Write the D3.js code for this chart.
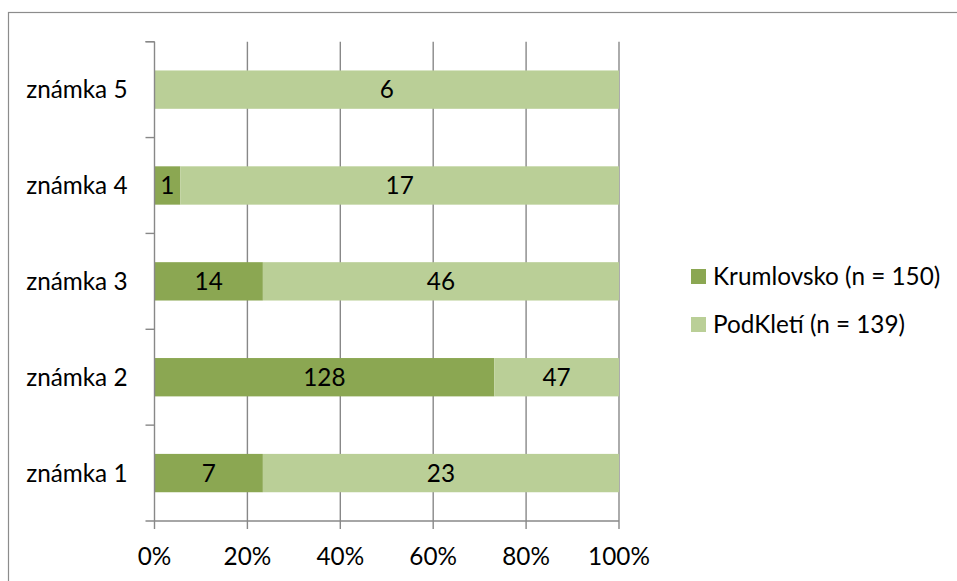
<!DOCTYPE html>
<html><head><meta charset="utf-8">
<script src="https://cdn.jsdelivr.net/npm/d3@7"></script>
<style>body{margin:0;background:#fff}svg{display:block}text{font-family:Lato,"Open Sans",sans-serif;fill:#000}</style>
</head><body><svg id="c" width="957" height="581"></svg>
<script>
const categories = ["známka 1","známka 2","známka 3","známka 4","známka 5"];
const seriesNames = ["Krumlovsko (n = 150)","PodKletí (n = 139)"];
const krumlovsko = [7,128,14,1,0];
const podkleti = [23,47,46,17,6];
const xTicks = [0,0.2,0.4,0.6,0.8,1];
const colors = ["#8BA752","#BACF97"];
const FS = 24.3;

const svg = d3.select("#c");
const W=957,H=581;
svg.append("rect").attr("x",8.5).attr("y",12.5).attr("width",W).attr("height",H).attr("fill","none").attr("stroke","#8c8c8c").attr("stroke-width",1.2);

const x0=154.5, x1=619, yTop=41.7, yBot=521;
const x = d3.scaleLinear().domain([0,1]).range([x0,x1]);
const y = d3.scaleBand().domain(categories.slice().reverse()).range([yTop,yBot]).paddingInner(0.6).paddingOuter(0.3);
const yb = d3.scaleBand().domain(categories.slice().reverse()).range([yTop,yBot]);

const grid="#888";
svg.append("g").selectAll("line").data(xTicks.slice(1)).join("line")
 .attr("x1",d=>x(d)).attr("x2",d=>x(d)).attr("y1",yTop).attr("y2",yBot+8)
 .attr("stroke",grid).attr("stroke-width",1.4);

const rows = categories.map((c,i)=>({cat:c,vals:[krumlovsko[i],podkleti[i]]}));
const g = svg.append("g");
rows.forEach(r=>{
  const tot = d3.sum(r.vals); let acc=0;
  r.vals.forEach((v,j)=>{
    const a=acc/tot, b=(acc+v)/tot; acc+=v;
    g.append("rect").attr("x",x(a)).attr("y",y(r.cat)).attr("width",x(b)-x(a)).attr("height",y.bandwidth()).attr("fill",colors[j]);
    if(v>0) g.append("text").attr("x",(x(a)+x(b))/2).attr("y",y(r.cat)+y.bandwidth()/2).attr("dy","0.36em")
      .attr("text-anchor","middle").attr("font-size",FS).text(v);
  });
});

svg.append("line").attr("x1",x0).attr("x2",x0).attr("y1",yTop).attr("y2",yBot+8).attr("stroke",grid).attr("stroke-width",1.4);
const bounds = categories.map(c=>yb(c)).concat([yTop]);
svg.append("g").selectAll("line").data(bounds).join("line")
 .attr("x1",x0-9).attr("x2",x0).attr("y1",d=>d).attr("y2",d=>d).attr("stroke",grid).attr("stroke-width",1.4);
svg.append("line").attr("x1",x0-9).attr("x2",x1).attr("y1",yBot).attr("y2",yBot).attr("stroke",grid).attr("stroke-width",1.4);

svg.append("g").selectAll("text").data(categories).join("text")
 .attr("x",127.5).attr("y",d=>yb(d)+yb.bandwidth()/2).attr("dy","0.36em").attr("text-anchor","end").attr("font-size",FS).text(d=>d);
svg.append("g").selectAll("text").data(xTicks).join("text")
 .attr("x",d=>x(d)).attr("y",556).attr("dy","0.36em").attr("text-anchor","middle").attr("font-size",FS).text(d=>d3.format(".0%")(d));

const lg = svg.append("g");
seriesNames.forEach((s,i)=>{
  const cy = 276.5 + i*48;
  lg.append("rect").attr("x",691).attr("y",cy-7.5).attr("width",15).attr("height",15).attr("fill",colors[i]);
  lg.append("text").attr("x",713).attr("y",cy).attr("dy","0.36em").attr("font-size",FS).text(s);
});
</script></body></html>
